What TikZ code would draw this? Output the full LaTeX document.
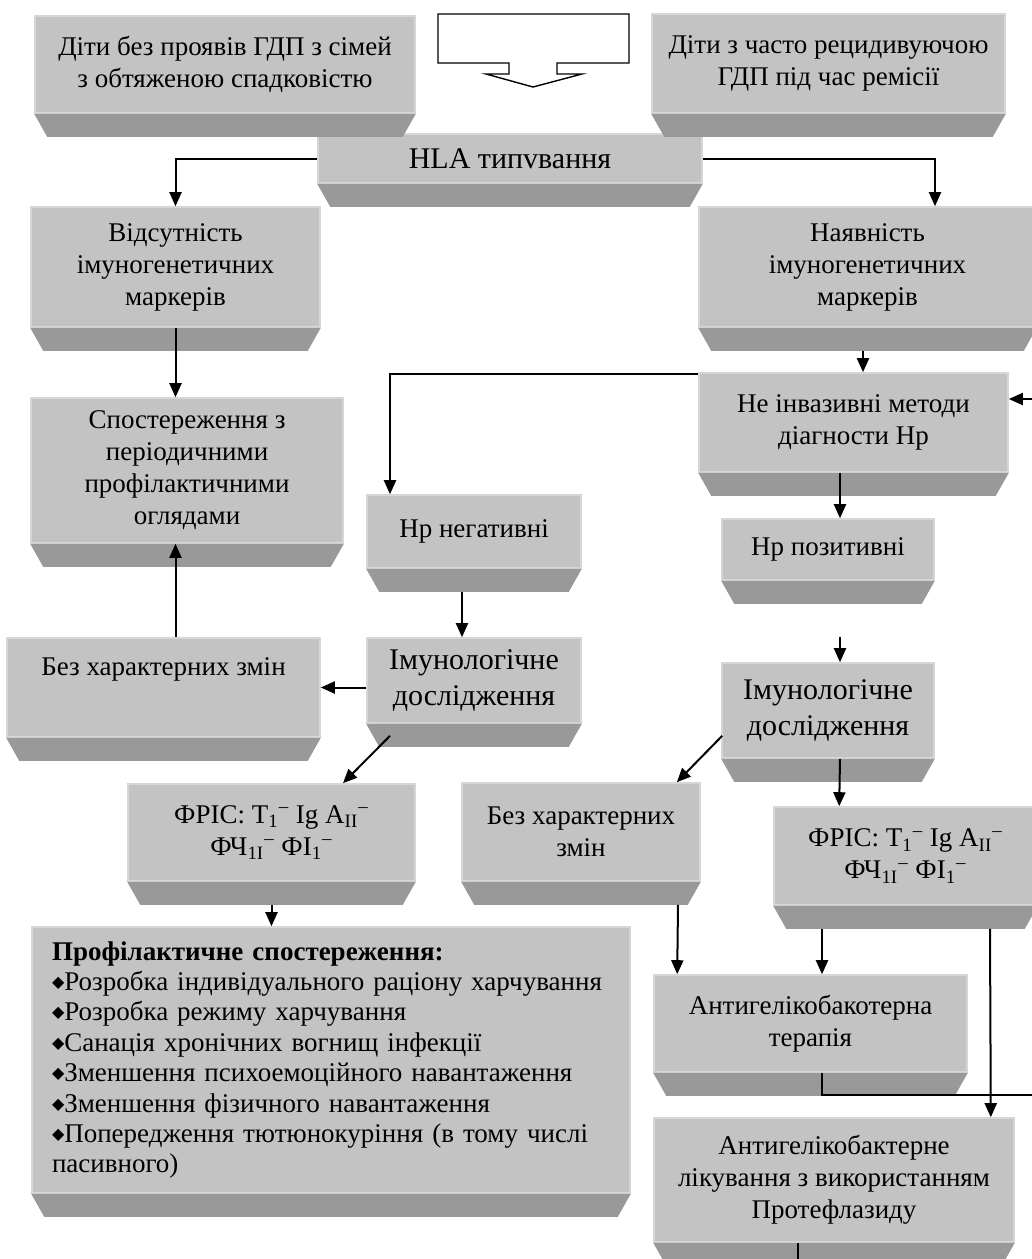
\documentclass[tikz,border=0pt]{standalone}
\usepackage{fontspec}
\setmainfont{Liberation Serif}
\newfontfamily\symfont{DejaVu Sans}
\usetikzlibrary{arrows.meta,calc}

\definecolor{boxgray}{RGB}{195,195,195}
\definecolor{boxedge}{RGB}{214,214,214}
\definecolor{boxdark}{RGB}{153,153,153}
\newcommand\basefont{\fontsize{13.5}{16}\selectfont}
\newcommand\bigfont{\fontsize{15}{18}\selectfont}
\newcommand\listfont{\fontsize{13.5}{15.2}\selectfont}
\newcommand\bul{\raisebox{0.25ex}{\symfont\fontsize{8}{8}\selectfont ◆}}
\newcommand\supm{\textsuperscript{–}}

\begin{document}
\begin{tikzpicture}[
x=0.5pt,y=-0.5pt,
box/.style={fill=boxgray,draw=boxedge,line width=0.8pt,inner sep=0pt,align=center,font=\basefont},
conn/.style={-{Triangle[length=7pt,width=6pt]},line width=1pt},
wire/.style={line width=1pt}]
\useasboundingbox (0,0) rectangle (1032,1259);
\clip (0,0) rectangle (1032,1259);

% boxes
\node (kids1) [box,minimum width=190pt,minimum height=48.5pt] at (225,64.5) {Діти без проявів ГДП з сімей\\з обтяженою спадковістю};
\node (kids2) [box,minimum width=176.5pt,minimum height=49.5pt] at (828.5,63.5) {Діти з часто рецидивуючою\\ГДП під час ремісії};
\node (hla) [box,font=\bigfont,minimum width=192pt,minimum height=24.5pt] at (510,158.5) {HLA типvвання};
\node (vid) [box,minimum width=144.5pt,minimum height=60pt] at (175.5,267) {Відсутність\\імуногенетичних\\маркерів};
\node (nav) [box,minimum width=168.5pt,minimum height=60pt] at (867.5,267) {Наявність\\імуногенетичних\\маркерів};
\node (spost) [box,minimum width=156pt,minimum height=72.5pt] at (187,470.5) {Спостереження з\\періодичними\\профілактичними\\оглядами};
\node (neinv) [box,minimum width=154.5pt,minimum height=49.5pt] at (853.5,422.5) {Не інвазивні методи\\діагности Нр};
\node (hpneg) [box,minimum width=107pt,minimum height=36.5pt] at (474,531.5) {Нр негативні};
\node (hppos) [box,minimum width=106pt,minimum height=30.5pt] at (828,549.5) {Нр позитивні};
\node (bezL) [box,minimum width=156.5pt,minimum height=49.5pt] at (163.5,687.5) {Без характерних змін\\\strut};
\node (imL) [box,font=\bigfont,minimum width=107pt,minimum height=42.5pt] at (474,680.5) {Імунологічне\\дослідження};
\node (imR) [box,font=\bigfont,minimum width=106pt,minimum height=47.5pt] at (828,710.5) {Імунологічне\\дослідження};
\node (frL) [box,minimum width=143.5pt,minimum height=48.5pt] at (271.5,832.5) {ФРІС: T\textsubscript{1}\supm{} Ig A\textsubscript{II}\supm\\ФЧ\textsubscript{1I}\supm{} ФІ\textsubscript{1}\supm};
\node (bezM) [box,minimum width=119pt,minimum height=49pt] at (581,832) {Без характерних\\змін};
\node (frR) [box,minimum width=131.5pt,minimum height=49pt] at (905.5,856) {ФРІС: T\textsubscript{1}\supm{} Ig A\textsubscript{II}\supm\\ФЧ\textsubscript{1I}\supm{} ФІ\textsubscript{1}\supm};
\node (prof) [box,align=left,font=\listfont,text width=279pt,minimum width=299pt,minimum height=133pt] at (331,1060) {\textbf{Профілактичне спостереження:}\\
\bul Розробка індивідуального раціону харчування\\
\bul Розробка режиму харчування\\
\bul Санація хронічних вогнищ інфекції\\
\bul Зменшення психоемоційного навантаження\\
\bul Зменшення фізичного навантаження\\
\bul Попередження тютюнокуріння (в тому числі\\
пасивного)};
\node (anti) [box,minimum width=156.5pt,minimum height=48.5pt] at (810.5,1023.5) {Антигелікобакотерна\\терапія};
\node (prot) [box,minimum width=180pt,minimum height=62pt] at (834,1180) {Антигелікобактерне\\лікування з використанням\\Протефлазиду};

% bevels under the boxes
\foreach \n in {kids1,kids2,hla,vid,nav,spost,neinv,hpneg,hppos,bezL,imL,imR,frL,bezM,frR,prof,anti,prot} {
  \fill[boxdark] (\n.south west) -- (\n.south east) -- ++(-13,23) -- ($(\n.south west)+(13,23)$) -- cycle;
  \coordinate (\n-b) at ($(\n.south)+(0,23)$);
}

% hollow block arrow
\draw[line width=0.7pt,fill=white] (438,14) -- (629,14) -- (629,63) -- (557,63) -- (557,74) -- (582,74)
  -- (533,87) -- (486,74) -- (509,74) -- (509,63) -- (438,63) -- cycle;

% loose ends at the edge
\coordinate (edgeA) at (1040,399);
\coordinate (edgeB) at (1040,1095);
\coordinate (edgeC) at (798,1270);
\coordinate (gap) at ($(imR.north)+(12,-25)$);

% connectors
\draw[conn] (hla.west) -| (vid.north);
\draw[conn] (hla.east) -| ($(nav.north)+(67.5,0)$);
\draw[conn] (vid.south) -- (vid.south |- spost.north);
\draw[conn] ($(nav-b)+(-4.5,0)$) -- ($(neinv.north)+(9.5,0)$);
\draw[conn] ($(neinv.north west)+(0,2)$) -| ($(hpneg.north)+(-84,0)$);
\draw[conn] (edgeA) -- (neinv.east |- edgeA);
\draw[conn] ($(neinv.south)+(-13.5,0)$) -- ($(hppos.north)+(12,0)$);
\draw[conn] ($(hpneg-b)+(-12,0)$) -- ($(imL.north)+(-12,0)$);
\draw[conn] (imL.west |- bezL.east) -- (bezL.east);
\draw[conn] (vid.south |- bezL.north) -- (vid.south |- spost.south);
\draw[conn] ($(imL.south)+(-84,12)$) -- ($(frL.north)+(71.5,0)$);
\draw[conn] (gap) -- ($(imR.north)+(12,0)$);
\draw[conn] ($(imR.south west)+(1,-23)$) -- ($(bezM.north east)+(-24,0)$);
\draw[conn] ($(imR.south)+(12,0)$) -- ($(frR.north west)+(66,0)$);
\draw[conn] (frL-b) -- (frL-b |- prof.north);
\draw[conn] ($(bezM-b)+(97,0)$) -- ($(anti.north west)+(24,0)$);
\draw[conn] ($(frR-b)+(-83.5,0)$) -- ($(anti.north)+(11.5,0)$);
\draw[conn] ($(frR-b)+(84.5,0)$) -- ($(prot.north east)+(-24,0)$);
\draw[wire] ($(anti.south)+(11.5,0)$) |- (edgeB);
\draw[wire] ($(prot.south)+(-36,0)$) -- (edgeC);
\end{tikzpicture}
\end{document}
